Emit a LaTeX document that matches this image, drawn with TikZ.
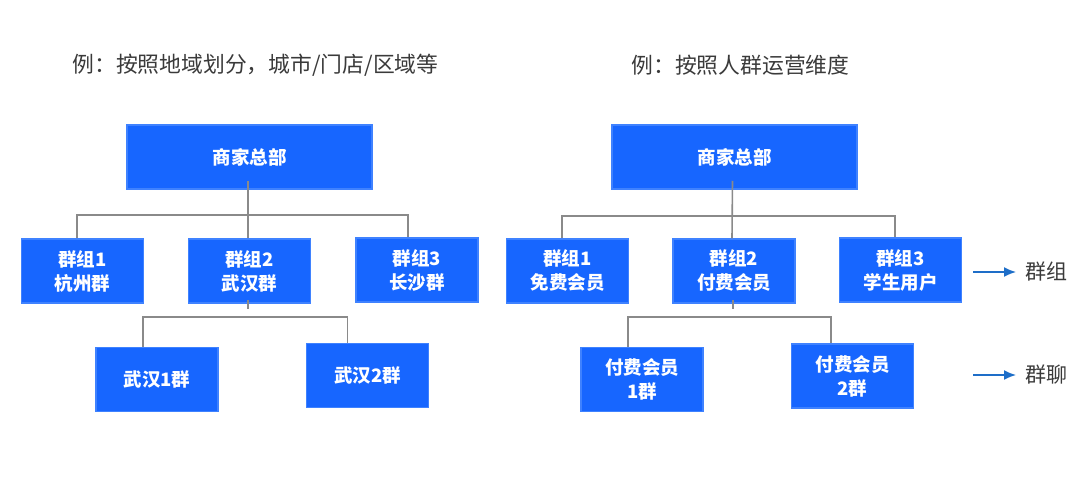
\documentclass[tikz,border=0pt]{standalone}
\usepackage{fontspec}
\newfontfamily\cjk{Noto Sans CJK SC}
\usetikzlibrary{arrows.meta}
\definecolor{boxblue}{HTML}{1766FF}
\definecolor{boxedge}{HTML}{3F82FF}
\definecolor{linkgray}{HTML}{8A8A8A}
\definecolor{arrblue}{HTML}{1E6EC8}
\definecolor{headgray}{HTML}{3A3A3A}
\tikzset{
    box/.style={draw=boxedge, fill=boxblue, line width=1.5pt, text=white,
        font=\cjk\bfseries\fontsize{18.5}{24}\selectfont, align=center,
        minimum width=122pt, minimum height=64pt, inner sep=0pt},
    hqbox/.style={box, minimum width=245pt},
    link/.style={draw=linkgray, line width=1.6pt},
    arr/.style={draw=arrblue, line width=1.6pt, -{Latex[length=12pt,width=10pt]}},
    head/.style={text=headgray, font=\cjk\fontsize{21.8}{24}\selectfont, inner sep=0pt},
    side/.style={text=headgray, font=\cjk\fontsize{21}{24}\selectfont, inner sep=0pt, anchor=west}
}
\begin{document}
\begin{tikzpicture}[x=1pt, y=-1pt]
        \useasboundingbox (0,0) rectangle (1080,480);
        % titles
        \node[head] (titleL) at (255.5,65) {例：按照地域划分，城市/门店/区域等};
        \node[head] (titleR) at (740.5,65) {例：按照人群运营维度};

        % left tree: by region
        \node[hqbox] (hqL) at (249.5,157)   {商家总部};
        \node[box]   (gL1) at (82.5,271)    {群组1\\杭州群};
        \node[box]   (gL2) at (249.5,271)   {群组2\\武汉群};
        \node[box]   (gL3) at (417,270)     {群组3\\长沙群};
        \node[box]   (cL1) at (157,379.5)   {武汉1群};
        \node[box]   (cL2) at (367.5,375.5) {武汉2群};

        \draw[link] ([xshift=-1.5pt,yshift=9pt]hqL.south) -- ([xshift=-1.5pt]gL2.north);
        \draw[link] ([xshift=-5.5pt]gL1.north) -- ++(0,-23) -| ([xshift=-9pt]gL3.north);
        \draw[link] ([xshift=-1.5pt,yshift=4pt]gL2.south) -- ++(0,9);
        \draw[link] ([xshift=-14pt]cL1.north) -- ++(0,-30) -| ([xshift=-20pt]cL2.north);

        % right tree: by user group
        \node[hqbox] (hqR) at (734.5,157)   {商家总部};
        \node[box]   (gR1) at (567.5,271)   {群组1\\免费会员};
        \node[box]   (gR2) at (734,271)     {群组2\\付费会员};
        \node[box]   (gR3) at (900.5,270)   {群组3\\学生用户};
        \node[box]   (cR1) at (642,379.5)   {付费会员\\1群};
        \node[box]   (cR2) at (852.5,376)   {付费会员\\2群};

        \draw[link] ([xshift=-2pt,yshift=9pt]hqR.south) -- ([xshift=-2pt]gR2.north);
        \draw[link] ([xshift=-5.5pt]gR1.north) -- ++(0,-22) -| ([xshift=-5.5pt]gR3.north);
        \draw[link] ([xshift=-1pt,yshift=4pt]gR2.south) -- ++(0,9);
        \draw[link] ([xshift=-14pt]cR1.north) -- ++(0,-30) -| ([xshift=-21.5pt]cR2.north);

        % level legend
        \node[side] (lblG) at (1025,272) {群组};
        \node[side] (lblC) at (1025,375) {群聊};
        \coordinate (aG) at (973,272);
        \coordinate (aC) at (973,375);
        \draw[arr] (aG) -- ([xshift=-9pt]lblG.west);
        \draw[arr] (aC) -- ([xshift=-9pt]lblC.west);
    \end{tikzpicture}
\end{document}
